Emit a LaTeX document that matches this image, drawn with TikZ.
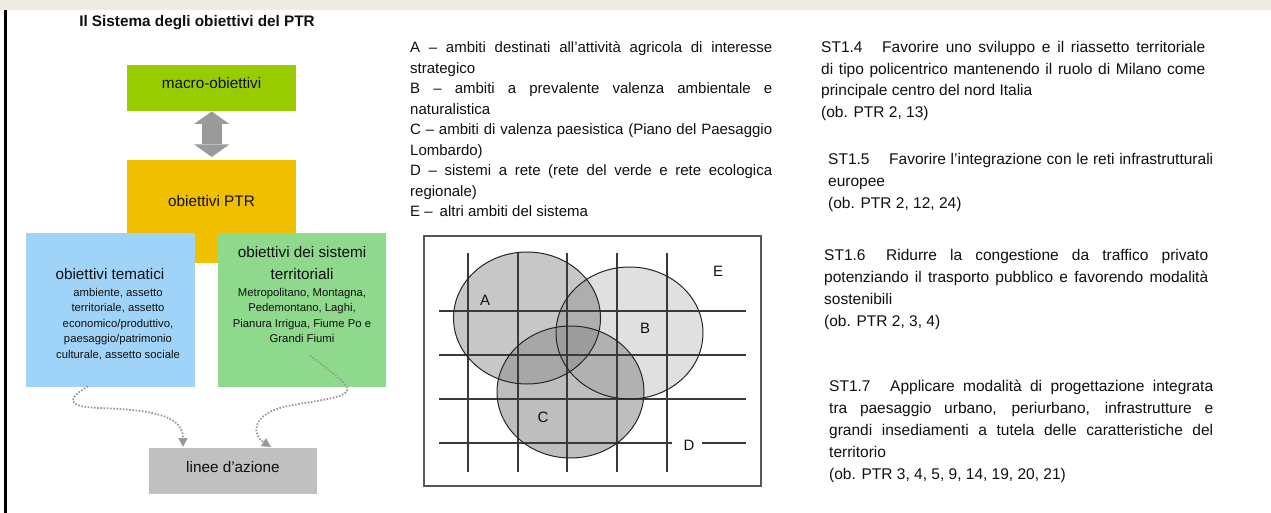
\documentclass[tikz,border=0pt]{standalone}
\usepackage{fontspec}
\setmainfont{Liberation Sans}
\usetikzlibrary{arrows.meta,calc}
\definecolor{topstrip}{HTML}{EEEBE1}
\definecolor{macrogreen}{HTML}{99CC00}
\definecolor{ptryellow}{HTML}{F0C000}
\definecolor{temblue}{HTML}{A0D3F8}
\definecolor{sisgreen}{HTML}{8ED98C}
\definecolor{lineegray}{HTML}{C0C0C0}
\definecolor{arrowgray}{HTML}{9A9A9A}
\definecolor{txt}{HTML}{101010}
\definecolor{gridc}{HTML}{3A3A3A}
\definecolor{cfill}{HTML}{939393}
\newcommand\fs[1]{\fontsize{#1}{#1}\selectfont}
\begin{document}
\begin{tikzpicture}[x=1pt,y=-1pt,
  box/.style={draw=none, inner sep=0pt, minimum width=169pt, anchor=north west},
  head/.style={anchor=base, inner sep=0pt, text=txt, font=\fs{15.3}},
  small/.style={anchor=base, inner sep=0pt, text=txt, font=\fs{11.3}},
  para/.style={anchor=base west, inner sep=0pt, text=txt, font=\fs{15}},
  rpara/.style={anchor=base west, inner sep=0pt, text=txt, font=\fs{15.5}},
  lab/.style={inner sep=0pt, text=txt, font=\fs{15}},
  dotarrow/.style={arrowgray, line width=1.8pt, dash pattern=on 1.6pt off 1.6pt, -{Triangle[width=9pt,length=9pt]}},
  gridline/.style={gridc, line width=1.3pt},
  vennline/.style={draw=black!85, line width=1pt},
]
\useasboundingbox (0,0) rectangle (1271,513);
\fill[white] (0,0) rectangle (1271,513);
\fill[topstrip] (0,0) rectangle (1271,10.5);
\fill[black] (4,10.5) rectangle (6.5,513);

% title
\node[anchor=base, font=\bfseries\fs{15.3}, text=txt, inner sep=0pt] (title) at (197,26.5) {Il Sistema degli obiettivi del PTR};

% boxes
\node[box, fill=ptryellow, minimum height=103pt] (ptr) at (127,160) {};
\node[box, fill=macrogreen, minimum height=46pt] (macro) at (127,65) {};
\node[box, fill=temblue, minimum height=154pt] (tem) at (26,233) {};
\node[box, fill=sisgreen, minimum width=168pt, minimum height=154pt] (sis) at (218,233) {};
\node[box, fill=lineegray, minimum width=168pt, minimum height=46pt] (linee) at (149,448) {};

% box texts
\node[head] (tmacro) at (211.5,89) {macro-obiettivi};
\node[head] (tptr) at (211.5,207) {obiettivi PTR};
\node[head] (tlinee) at (233,472) {linee d’azione};
\node[head] (ttem) at (110,279.3) {obiettivi tematici};
\node[small] (tem1) at (118,296) {ambiente, assetto};
\node[small] (tem2) at (118,311.5) {territoriale, assetto};
\node[small] (tem3) at (118,327) {economico/produttivo,};
\node[small] (tem4) at (118,342.7) {paesaggio/patrimonio};
\node[small] (tem5) at (118,358.3) {culturale, assetto sociale};
\node[head] (tsis1) at (302,257.3) {obiettivi dei sistemi};
\node[head] (tsis2) at (302,279.3) {territoriali};
\node[small] (sis1) at (302,296) {Metropolitano, Montagna,};
\node[small] (sis2) at (302,311.5) {Pedemontano, Laghi,};
\node[small] (sis3) at (302,327) {Pianura Irrigua, Fiume Po e};
\node[small] (sis4) at (302,342.7) {Grandi Fiumi};

% double arrow
\draw[arrowgray, line width=20pt,
  {Triangle[width=35pt,length=12.5pt,line width=0pt]}-{Triangle[width=35pt,length=12.5pt,line width=0pt]}]
  (macro.south) -- ($(ptr.north)+(0,-3)$);

% dotted arrows
\draw[dotarrow] ($(tem.south west)+(62,-1)$) .. controls (68,398) and (64,407) .. (100,408)
  .. controls (160,410) and (183,418) .. ($(linee.north west)+(34,-1)$);
\draw[dotarrow] ($(sis.south west)+(92,-32)$) .. controls (335,375) and (350,385) .. (347,391)
  .. controls (342,400) and (300,402) .. (280,408)
  .. controls (252,416) and (252,435) .. ($(linee.north west)+(122,-1)$);

% middle text
\node[para] (a1) at (410,52.7) {\makebox[362pt][s]{A – ambiti destinati all’attività agricola di interesse}};
\node[para] (a2) at (410,73.2) {strategico};
\node[para] (b1) at (410,93.7) {\makebox[362pt][s]{B – ambiti a prevalente valenza ambientale e}};
\node[para] (b2) at (410,114.2) {naturalistica};
\node[para] (c1) at (410,134.7) {\makebox[362pt][s]{C – ambiti di valenza paesistica (Piano del Paesaggio}};
\node[para] (c2) at (410,155.2) {Lombardo)};
\node[para] (d1) at (410,175.7) {\makebox[362pt][s]{D – sistemi a rete (rete del verde e rete ecologica}};
\node[para] (d2) at (410,196.2) {regionale)};
\node[para] (e1) at (410,216.7) {E –\hspace{7pt}altri ambiti del sistema};

% venn scene
\draw[gridc!85, line width=1.3pt] (424,236) rectangle (761,486);
\fill[black, fill opacity=0.22] (527,318) ellipse [x radius=73.5, y radius=66];
\fill[black, fill opacity=0.12] (629.5,333) ellipse [x radius=73.5, y radius=66];
\fill[cfill, fill opacity=0.6] (570.5,392) ellipse [x radius=73.5, y radius=66];
\foreach \xx in {468,518,567,617,667} \draw[gridline] (\xx,253) -- (\xx,472);
\foreach \yy in {311,355,399} \draw[gridline] (439,\yy) -- (746,\yy);
\draw[gridline] (439,443) -- (672,443);
\draw[gridline] (702,443) -- (746,443);
\draw[vennline] (527,318) ellipse [x radius=73.5, y radius=66];
\draw[vennline] (629.5,333) ellipse [x radius=73.5, y radius=66];
\draw[vennline] (570.5,392) ellipse [x radius=73.5, y radius=66];
\node[lab] (la) at (485,300) {A};
\node[lab] (lb) at (645,328) {B};
\node[lab] (lc) at (543,417) {C};
\node[lab] (ld) at (689,445) {D};
\node[lab] (le) at (718,271) {E};

% right text
\node[rpara] (s14) at (821,52.7) {ST1.4};
\node[rpara] (s14a) at (882,52.7) {\makebox[323pt][s]{Favorire uno sviluppo e il riassetto territoriale}};
\node[rpara] (s14b) at (821,74.2) {\makebox[384pt][s]{di tipo policentrico mantenendo il ruolo di Milano come}};
\node[rpara] (s14c) at (821,95.7) {principale centro del nord Italia};
\node[rpara] (s14d) at (821,117.2) {(ob. PTR 2, 13)};

\node[rpara] (s15) at (828,165) {ST1.5};
\node[rpara] (s15a) at (889,165) {\makebox[324pt][s]{Favorire l\char"0027 integrazione con le reti infrastrutturali}};
\node[rpara] (s15b) at (828,186.7) {europee};
\node[rpara] (s15c) at (828,208.3) {(ob. PTR 2, 12, 24)};

\node[rpara] (s16) at (824,260.7) {ST1.6};
\node[rpara] (s16a) at (886,260.7) {\makebox[322pt][s]{Ridurre la congestione da traffico privato}};
\node[rpara] (s16b) at (824,282.7) {\makebox[384pt][s]{potenziando il trasporto pubblico e favorendo modalità}};
\node[rpara] (s16c) at (824,304.7) {sostenibili};
\node[rpara] (s16d) at (824,326.7) {(ob. PTR 2, 3, 4)};

\node[rpara] (s17) at (829,391.7) {ST1.7};
\node[rpara] (s17a) at (890,391.7) {\makebox[323pt][s]{Applicare modalità di progettazione integrata}};
\node[rpara] (s17b) at (829,413.7) {\makebox[384pt][s]{tra paesaggio urbano, periurbano, infrastrutture e}};
\node[rpara] (s17c) at (829,435.7) {\makebox[384pt][s]{grandi insediamenti a tutela delle caratteristiche del}};
\node[rpara] (s17d) at (829,457.7) {territorio};
\node[rpara] (s17e) at (829,479.7) {(ob. PTR 3, 4, 5, 9, 14, 19, 20, 21)};
\end{tikzpicture}
\end{document}
